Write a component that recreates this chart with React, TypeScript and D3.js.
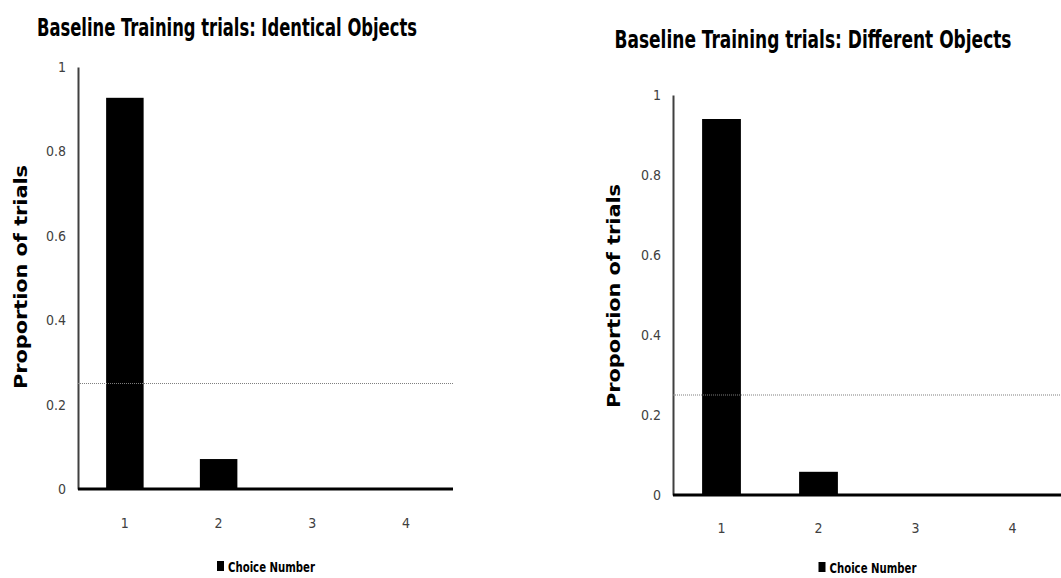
import React, { useEffect, useRef } from 'react';
import * as d3 from 'd3';

// data
const choices = ['1', '2', '3', '4'];
const identicalValues = [0.927, 0.071, 0, 0];
const differentValues = [0.94, 0.058, 0, 0];
const yTicks = [0, 0.2, 0.4, 0.6, 0.8, 1];
const chanceLevel = 0.25;

const W = 1061;
const H = 578;
const narrow = '"DejaVu Sans Condensed", "Liberation Sans Narrow", sans-serif';

interface PanelSpec {
  title: string;
  titleWidth: number;
  values: number[];
  box: { left: number; right: number; top: number; bottom: number };
  titleX: number;
  titleY: number;
  yLabelX: number;
  yLabelY: number;
  xLabelY: number;
  legendY: number;
}

const panels: PanelSpec[] = [
  {
    title: 'Baseline Training trials: Identical Objects',
    titleWidth: 380,
    values: identicalValues,
    box: { left: 78, right: 453, top: 67, bottom: 489 },
    titleX: 227,
    titleY: 36,
    yLabelX: 27,
    yLabelY: 277,
    xLabelY: 528,
    legendY: 572,
  },
  {
    title: 'Baseline Training trials: Different Objects',
    titleWidth: 397,
    values: differentValues,
    box: { left: 673, right: 1061, top: 95, bottom: 495 },
    titleX: 813,
    titleY: 48,
    yLabelX: 620,
    yLabelY: 296,
    xLabelY: 533,
    legendY: 573,
  },
];

const App: React.FC = () => {
  const svgRef = useRef<SVGSVGElement>(null);

  useEffect(() => {
    if (!svgRef.current) return;
    const svg = d3.select(svgRef.current);
    svg.selectAll('*').remove();

    panels.forEach(p => {
      const { left, right, top, bottom } = p.box;
      const x = d3.scaleBand<string>().domain(choices).range([left, right]).paddingInner(0.6).paddingOuter(0.3);
      const xc = d3.scaleBand<string>().domain(choices).range([left, right]);
      const y = d3.scaleLinear().domain([0, 1]).range([bottom, top]);

      const g = svg.append('g');

      // title (narrow, tall lettering)
      g.append('text')
        .attr('transform', `translate(${p.titleX},${p.titleY}) scale(1,1.2)`)
        .attr('text-anchor', 'middle')
        .attr('font-family', narrow)
        .attr('font-weight', 'bold')
        .attr('font-size', 20)
        .attr('textLength', p.titleWidth)
        .attr('lengthAdjust', 'spacingAndGlyphs')
        .attr('fill', '#000')
        .text(p.title);

      // y axis
      const yAxis = d3.axisLeft(y).tickValues(yTicks).tickSize(0).tickPadding(12).tickFormat(d => String(d));
      const ya = g.append('g').attr('transform', `translate(${left},0)`).call(yAxis);
      ya.select('.domain').attr('stroke', '#404040').attr('stroke-width', 2);
      ya.selectAll('text')
        .attr('font-family', narrow)
        .attr('font-size', 14)
        .attr('fill', '#404040');

      g.append('text')
        .attr('transform', `translate(${p.yLabelX},${p.yLabelY}) rotate(-90)`)
        .attr('text-anchor', 'middle')
        .attr('font-family', '"DejaVu Sans", sans-serif')
        .attr('font-weight', 'bold')
        .attr('font-size', 18)
        .attr('textLength', 224)
        .attr('lengthAdjust', 'spacingAndGlyphs')
        .attr('fill', '#000')
        .text('Proportion of trials');

      // bars
      g.selectAll('rect.bar')
        .data(p.values)
        .join('rect')
        .attr('class', 'bar')
        .attr('x', (_, i) => x(choices[i]) ?? 0)
        .attr('width', x.bandwidth())
        .attr('y', d => y(d))
        .attr('height', d => y(0) - y(d))
        .attr('fill', '#000');

      // chance line
      g.append('line')
        .attr('x1', left)
        .attr('x2', right)
        .attr('y1', y(chanceLevel))
        .attr('y2', y(chanceLevel))
        .attr('stroke', '#7f7f7f')
        .attr('stroke-width', 1.2)
        .attr('stroke-dasharray', '1,1');

      // x axis (thick baseline)
      g.append('line')
        .attr('x1', left)
        .attr('x2', right)
        .attr('y1', y(0))
        .attr('y2', y(0))
        .attr('stroke', '#000')
        .attr('stroke-width', 3);

      g.selectAll('text.xlab')
        .data(choices)
        .join('text')
        .attr('class', 'xlab')
        .attr('x', d => (xc(d) ?? 0) + xc.bandwidth() / 2)
        .attr('y', p.xLabelY)
        .attr('text-anchor', 'middle')
        .attr('font-family', narrow)
        .attr('font-size', 14)
        .attr('fill', '#404040')
        .text(d => d);

      // legend
      const mid = (left + right) / 2;
      const leg = g.append('g').attr('transform', `translate(${mid},${p.legendY})`);
      const legW = 87;
      const startX = -(legW + 10) / 2;
      leg.append('rect').attr('x', startX).attr('y', -11).attr('width', 7).attr('height', 10).attr('fill', '#000');
      leg.append('text')
        .attr('x', startX + 11)
        .attr('y', 0)
        .attr('font-family', narrow)
        .attr('font-weight', 'bold')
        .attr('font-size', 14)
        .attr('textLength', legW)
        .attr('lengthAdjust', 'spacingAndGlyphs')
        .attr('fill', '#000')
        .text('Choice Number');
    });
  }, []);

  return (
    <svg
      ref={svgRef}
      width={W}
      height={H}
      style={{ position: 'absolute', left: 0, top: 0, background: '#fff' }}
    />
  );
};

export default App;
